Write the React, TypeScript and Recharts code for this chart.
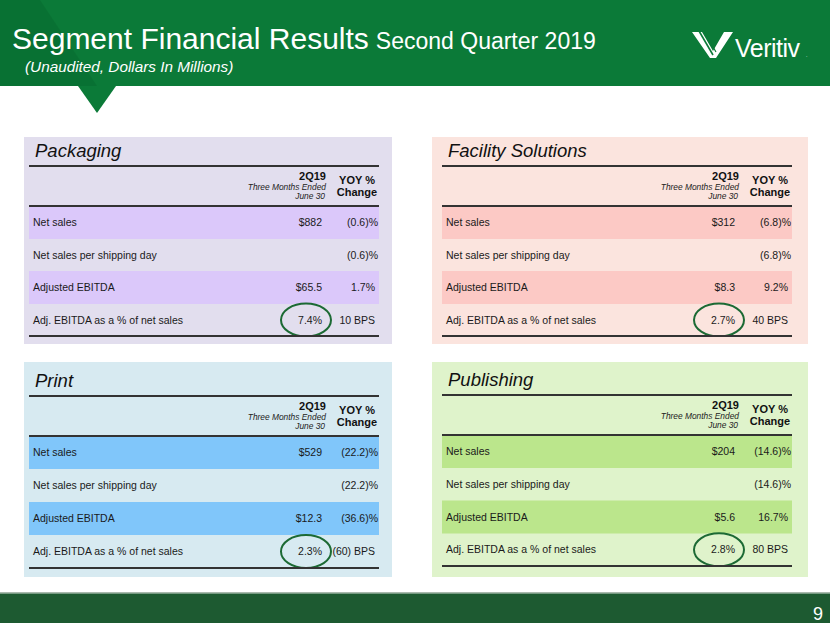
import React from 'react';
import { BarChart, Bar, XAxis, YAxis, LabelList, Cell } from 'recharts';

const FONT = 'Arial, "Liberation Sans", Helvetica, sans-serif';

// ---------- data ----------
const titleMain = 'Segment Financial Results';
const titleSub = 'Second Quarter 2019';
const subtitle = '(Unaudited, Dollars In Millions)';
const pageNumber = '9';

const segments = ['Packaging', 'Facility Solutions', 'Print', 'Publishing'];
const rowLabels = ['Net sales', 'Net sales per shipping day', 'Adjusted EBITDA', 'Adj. EBITDA as a % of net sales'];
const highlightedRows = ['Net sales', 'Adjusted EBITDA'];
const periodHeader = ['2Q19', 'Three Months Ended', 'June 30'];
const yoyHeader = ['YOY %', 'Change'];

const packagingValues = ['$882', '', '$65.5', '7.4%'];
const packagingYoy = ['(0.6)%', '(0.6)%', '1.7%', '10 BPS'];
const facilityValues = ['$312', '', '$8.3', '2.7%'];
const facilityYoy = ['(6.8)%', '(6.8)%', '9.2%', '40 BPS'];
const printValues = ['$529', '', '$12.3', '2.3%'];
const printYoy = ['(22.2)%', '(22.2)%', '(36.6)%', '(60) BPS'];
const publishingValues = ['$204', '', '$5.6', '2.8%'];
const publishingYoy = ['(14.6)%', '(14.6)%', '16.7%', '80 BPS'];

const segmentValues = [packagingValues, facilityValues, printValues, publishingValues];
const segmentYoy = [packagingYoy, facilityYoy, printYoy, publishingYoy];

// ---------- styles / layout ----------
const panelStyles = [
  { left: 24, top: 137, width: 368, height: 207, bg: '#e2deee', hl: '#dbc8fa', lineX: 5, titleY: 29, headY: 69, botY: 199 },
  { left: 432, top: 137, width: 376, height: 207, bg: '#fbe4de', hl: '#fcc9c5', lineX: 10, titleY: 29, headY: 69, botY: 199 },
  { left: 24, top: 362, width: 368, height: 215, bg: '#d7eaf1', hl: '#80c6fa', lineX: 5, titleY: 34, headY: 74, botY: 206 },
  { left: 432, top: 362, width: 376, height: 215, bg: '#dff3cb', hl: '#bbe68c', lineX: 10, titleY: 33, headY: 73, botY: 204 },
];
const LINE_W = 350;

function RowLabel(props: any) {
  const { y, height, index, values, yoy } = props;
  const cy = Number(y) + Number(height) / 2;
  const i = index as number;
  const yoyText = (yoy[i] ?? '') as string;
  const yoyRight = yoyText.endsWith(')%') ? 349 : 346;
  return (
    <g>
      <text x={4} y={cy} dy="0.35em" fontFamily={FONT} fontSize={10.5} fill="#1a1a1a" textAnchor="start">
        {rowLabels[i]}
      </text>
      <text x={293} y={cy} dy="0.35em" fontFamily={FONT} fontSize={10.5} fill="#1a1a1a" textAnchor="end">
        {values[i]}
      </text>
      <text x={yoyRight} y={cy} dy="0.35em" fontFamily={FONT} fontSize={10.5} fill="#1a1a1a" textAnchor="end">
        {yoyText}
      </text>
      {i === rowLabels.length - 1 && (
        <ellipse cx={277} cy={cy} rx={25} ry={16.5} fill="none" stroke="#1c6a34" strokeWidth={2} />
      )}
    </g>
  );
}

function Panel({ idx }: { idx: number }) {
  const s = panelStyles[idx];
  const values = segmentValues[idx];
  const yoy = segmentYoy[idx];
  const data = rowLabels.map((label) => ({ label, row: 1 }));
  const chartH = s.botY - s.headY;
  const lx = s.lineX;
  return (
    <div style={{ position: 'absolute', left: s.left, top: s.top, width: s.width, height: s.height, background: s.bg }}>
      <div style={{ position: 'absolute', left: lx, top: s.headY }}>
        <BarChart
          layout="vertical"
          width={LINE_W}
          height={chartH}
          data={data}
          barCategoryGap={0}
          margin={{ top: 0, right: 0, bottom: 0, left: 0 }}
          style={{ overflow: 'visible' }}
        >
          <XAxis type="number" hide domain={[0, 1]} allowDataOverflow />
          <YAxis type="category" dataKey="label" hide />
          <Bar dataKey="row" isAnimationActive={false}>
            {data.map((d) => (
              <Cell key={d.label} fill={highlightedRows.includes(d.label) ? s.hl : 'transparent'} />
            ))}
            <LabelList
              dataKey="label"
              content={(p: any) => <RowLabel {...p} values={values} yoy={yoy} />}
            />
          </Bar>
        </BarChart>
      </div>
      <svg width={s.width} height={s.height} style={{ position: 'absolute', left: 0, top: 0, pointerEvents: 'none', overflow: 'visible' }}>
        <text x={lx + 6} y={s.titleY - 9} fontFamily={FONT} fontSize={18.5} fontStyle="italic" fill="#111">
          {segments[idx]}
        </text>
        <line x1={lx} x2={lx + LINE_W} y1={s.titleY} y2={s.titleY} stroke="#333" strokeWidth={2} />
        <line x1={lx} x2={lx + LINE_W} y1={s.headY} y2={s.headY} stroke="#333" strokeWidth={2} />
        <line x1={lx} x2={lx + LINE_W} y1={s.botY} y2={s.botY} stroke="#333" strokeWidth={2} />
        <text x={lx + 297} y={s.headY - 26} fontFamily={FONT} fontSize={11} fontWeight="bold" textAnchor="end" fill="#111">
          {periodHeader[0]}
        </text>
        <text x={lx + 297} y={s.headY - 16} fontFamily={FONT} fontSize={8.4} fontStyle="italic" textAnchor="end" fill="#222">
          {periodHeader[1]}
        </text>
        <text x={lx + 296} y={s.headY - 7.5} fontFamily={FONT} fontSize={8.4} fontStyle="italic" textAnchor="end" fill="#222">
          {periodHeader[2]}
        </text>
        <text x={lx + 328} y={s.headY - 22} fontFamily={FONT} fontSize={11} fontWeight="bold" textAnchor="middle" fill="#111">
          {yoyHeader[0]}
        </text>
        <text x={lx + 328} y={s.headY - 10} fontFamily={FONT} fontSize={11} fontWeight="bold" textAnchor="middle" fill="#111">
          {yoyHeader[1]}
        </text>
      </svg>
    </div>
  );
}

export default function App() {
  return (
    <div style={{ position: 'fixed', left: 0, top: 0, width: 830, height: 623, background: '#ffffff', overflow: 'hidden', fontFamily: FONT }}>
      <svg width={830} height={623} style={{ position: 'absolute', left: 0, top: 0 }}>
        <rect x={0} y={0} width={830} height={86} fill="#0b7a38" />
        <polygon points="0,0 40,0 97,86 0,86" fill="#086a30" opacity={0.55} />
        <polygon points="78,86 116,86 97,113" fill="#0b7a38" />
        <text x={12} y={49} fontFamily={FONT} fontSize={30} fill="#ffffff">
          {titleMain}
          <tspan fontSize={23} dx={7}>{titleSub}</tspan>
        </text>
        <text x={25} y={72} fontFamily={FONT} fontSize={15.3} fontStyle="italic" fill="#ffffff">
          {subtitle}
        </text>
        {/* logo */}
        <polygon points="692,32 702,32 713,51 724,32 733,32 716,58 710,58" fill="#ffffff" />
        <line x1={699} y1={31} x2={713} y2={55} stroke="#0b7a38" strokeWidth={1.6} />
        <line x1={704} y1={31} x2={716} y2={52} stroke="#0b7a38" strokeWidth={1.2} />
        <text x={735} y={57} fontFamily={FONT} fontSize={25} fill="#ffffff" letterSpacing={-0.5}>Veritiv</text>
        <text x={806} y={57} fontFamily={FONT} fontSize={5} fill="#ffffff">.</text>
        {/* footer */}
        <rect x={0} y={592} width={830} height={1.5} fill="#a9b9ad" />
        <rect x={0} y={593.5} width={830} height={30} fill="#1d5a31" />
        <text x={818} y={620} fontFamily={FONT} fontSize={18} fill="#ffffff" textAnchor="middle">{pageNumber}</text>
      </svg>
      {panelStyles.map((_, i) => (
        <Panel key={i} idx={i} />
      ))}
    </div>
  );
}
